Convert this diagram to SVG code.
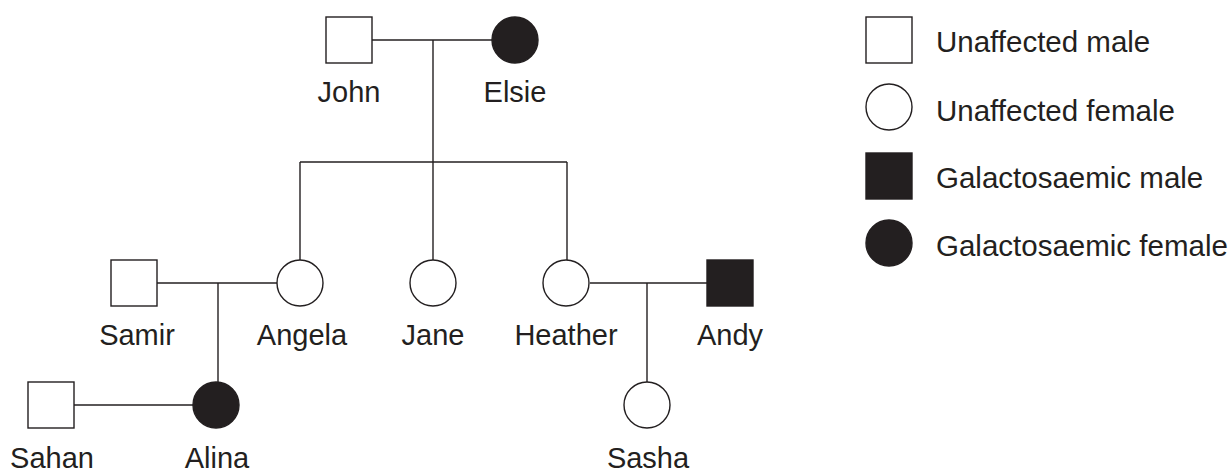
<svg xmlns="http://www.w3.org/2000/svg" width="1232" height="472" viewBox="0 0 1232 472">
  <style>
    .line { stroke: #231f20; stroke-width: 1.4; fill: none; }
    .open { fill: #ffffff; stroke: #231f20; stroke-width: 1.4; }
    .filled { fill: #231f20; stroke: #231f20; stroke-width: 1.4; }
    .name { font-family: "Liberation Sans", Arial, sans-serif; font-size: 29px; fill: #231f20; text-anchor: middle; }
    .key { font-family: "Liberation Sans", Arial, sans-serif; font-size: 29.5px; fill: #231f20; }
  </style>
  <rect width="1232" height="472" fill="#ffffff"/>

  <!-- connectors: marriages and descent lines -->
  <g id="connectors">
    <line class="line" x1="372" y1="40" x2="492" y2="40"/>
    <line class="line" x1="433" y1="40" x2="433" y2="162"/>
    <line class="line" x1="300" y1="162" x2="567" y2="162"/>
    <line class="line" x1="300" y1="162" x2="300" y2="260"/>
    <line class="line" x1="433" y1="162" x2="433" y2="260"/>
    <line class="line" x1="567" y1="162" x2="567" y2="260"/>
    <line class="line" x1="157" y1="283" x2="277" y2="283"/>
    <line class="line" x1="218" y1="283" x2="218" y2="382"/>
    <line class="line" x1="74" y1="405" x2="193" y2="405"/>
    <line class="line" x1="590" y1="283" x2="707" y2="283"/>
    <line class="line" x1="647" y1="283" x2="647" y2="382"/>
  </g>

  <!-- generation I -->
  <g id="john">
    <rect class="open" x="326" y="17" width="46" height="46"/>
    <text class="name" x="349" y="102">John</text>
  </g>
  <g id="elsie">
    <circle class="filled" cx="515" cy="40" r="23"/>
    <text class="name" x="515" y="102">Elsie</text>
  </g>

  <!-- generation II -->
  <g id="samir">
    <rect class="open" x="111" y="260" width="46" height="46"/>
    <text class="name" x="137" y="345">Samir</text>
  </g>
  <g id="angela">
    <circle class="open" cx="300" cy="283" r="23"/>
    <text class="name" x="302" y="345">Angela</text>
  </g>
  <g id="jane">
    <circle class="open" cx="433" cy="283" r="23"/>
    <text class="name" x="433" y="345">Jane</text>
  </g>
  <g id="heather">
    <circle class="open" cx="566" cy="283" r="23"/>
    <text class="name" x="566" y="345">Heather</text>
  </g>
  <g id="andy">
    <rect class="filled" x="707" y="260" width="46" height="46"/>
    <text class="name" x="730" y="345">Andy</text>
  </g>

  <!-- generation III -->
  <g id="sahan">
    <rect class="open" x="28" y="382" width="46" height="46"/>
    <text class="name" x="52" y="468">Sahan</text>
  </g>
  <g id="alina">
    <circle class="filled" cx="216" cy="405" r="23"/>
    <text class="name" x="217" y="468">Alina</text>
  </g>
  <g id="sasha">
    <circle class="open" cx="647" cy="405" r="23"/>
    <text class="name" x="648" y="468">Sasha</text>
  </g>

  <!-- key -->
  <g id="legend">
    <rect class="open" x="866" y="17" width="46" height="46"/>
    <text class="key" x="936" y="52">Unaffected male</text>
    <circle class="open" cx="889" cy="107" r="23"/>
    <text class="key" x="936" y="121">Unaffected female</text>
    <rect class="filled" x="866" y="153" width="46" height="46"/>
    <text class="key" x="936" y="188">Galactosaemic male</text>
    <circle class="filled" cx="889" cy="243" r="23"/>
    <text class="key" x="936" y="256">Galactosaemic female</text>
  </g>
</svg>
